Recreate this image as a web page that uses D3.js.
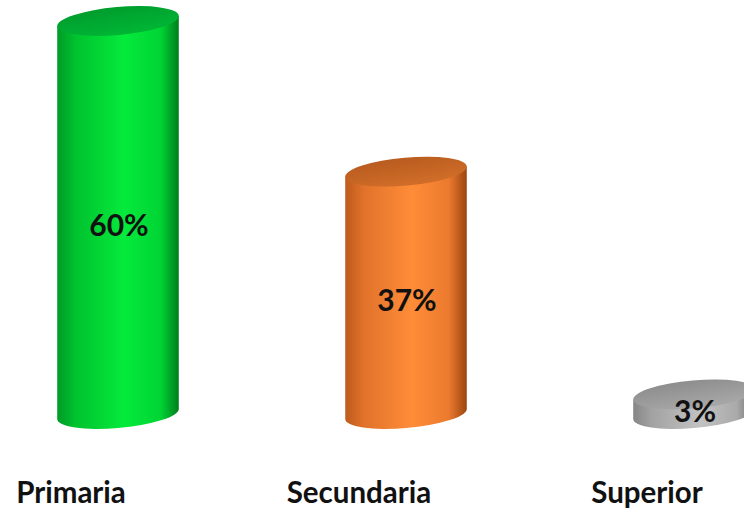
<!DOCTYPE html>
<html><head><meta charset="utf-8">
<script src="https://cdn.jsdelivr.net/npm/d3@7"></script>
<style>html,body{margin:0;padding:0;background:#fff;overflow:hidden}</style>
</head><body>
<svg id="chart" width="744" height="514"></svg>
<script>
const categories = ["Primaria", "Secundaria", "Superior"];
const values = [60, 37, 3];
const valueLabels = ["60%", "37%", "3%"];
const sideColors = [
  ["#009a26", "#00c22e", "#05ea3c", "#00d434", "#007d1c"],
  ["#bd5a1c", "#e0722a", "#ff8c38", "#ec7a2e", "#9a4510"],
  ["#858585", "#a2a2a2", "#c2c2c2", "#aaaaaa", "#6a6a6a"]
];
const topColors = [
  ["#009a2c", "#00b434"],
  ["#b65a1e", "#cf6c28"],
  ["#8a8a8a", "#a6a6a6"]
];

const W = 744, H = 514;
const svg = d3.select("#chart");
const defs = svg.append("defs");

const x = d3.scaleBand().domain(categories).range([-26, 838]).paddingInner(0.58).paddingOuter(0.29);
const y = d3.scaleLinear().domain([0, 60]).range([414, 21]);

const a = 61, b = 14, thetaDeg = -5, th = thetaDeg * Math.PI / 180;
function pt(cx, cy, t) {
  return [cx + a * Math.cos(t) * Math.cos(th) - b * Math.sin(t) * Math.sin(th),
          cy + a * Math.cos(t) * Math.sin(th) + b * Math.sin(t) * Math.cos(th)];
}
const t0 = Math.atan2(-b * Math.sin(th), a * Math.cos(th));

categories.forEach((c, i) => {
  const cx = x(c) + x.bandwidth() / 2;
  const yTop = y(values[i]), yBot = y(0);
  const sg = defs.append("linearGradient").attr("id", "side" + i)
    .attr("gradientUnits", "userSpaceOnUse")
    .attr("x1", cx - a).attr("x2", cx + a).attr("y1", 0).attr("y2", 0);
  [0, 0.15, 0.55, 0.85, 1].forEach((o, k) => sg.append("stop").attr("offset", o).attr("stop-color", sideColors[i][k]));
  const tg = defs.append("linearGradient").attr("id", "top" + i)
    .attr("x1", 0).attr("y1", 0).attr("x2", 0.3).attr("y2", 1);
  tg.append("stop").attr("offset", 0).attr("stop-color", topColors[i][0]);
  tg.append("stop").attr("offset", 1).attr("stop-color", topColors[i][1]);

  const g = svg.append("g");
  const rT = pt(cx, yTop, t0), lT = pt(cx, yTop, t0 + Math.PI);
  const rB = pt(cx, yBot, t0), lB = pt(cx, yBot, t0 + Math.PI);
  const d = `M${rT[0]},${rT[1]} L${rB[0]},${rB[1]} A${a},${b} ${thetaDeg} 0 1 ${lB[0]},${lB[1]} L${lT[0]},${lT[1]} Z`;
  g.append("path").attr("d", d).attr("fill", `url(#side${i})`);
  g.append("ellipse").attr("cx", 0).attr("cy", 0).attr("rx", a).attr("ry", b)
    .attr("transform", `translate(${cx},${yTop}) rotate(${thetaDeg})`)
    .attr("fill", `url(#top${i})`);
  g.append("text").attr("x", cx + 1).attr("y", (yTop + yBot) / 2 + 18)
    .attr("text-anchor", "middle").attr("font-family", "Lato, 'Open Sans', sans-serif")
    .attr("font-weight", "bold").attr("font-size", 30).attr("fill", "#111")
    .text(valueLabels[i]);
});

svg.append("g").selectAll("text").data(categories).join("text")
  .attr("x", d => x(d) + x.bandwidth() / 2 - 47)
  .attr("y", 503)
  .attr("text-anchor", "middle")
  .attr("font-family", "Lato, 'Open Sans', sans-serif")
  .attr("font-weight", "bold").attr("font-size", 29.5).attr("fill", "#111")
  .text(d => d);
</script>
</body></html>
